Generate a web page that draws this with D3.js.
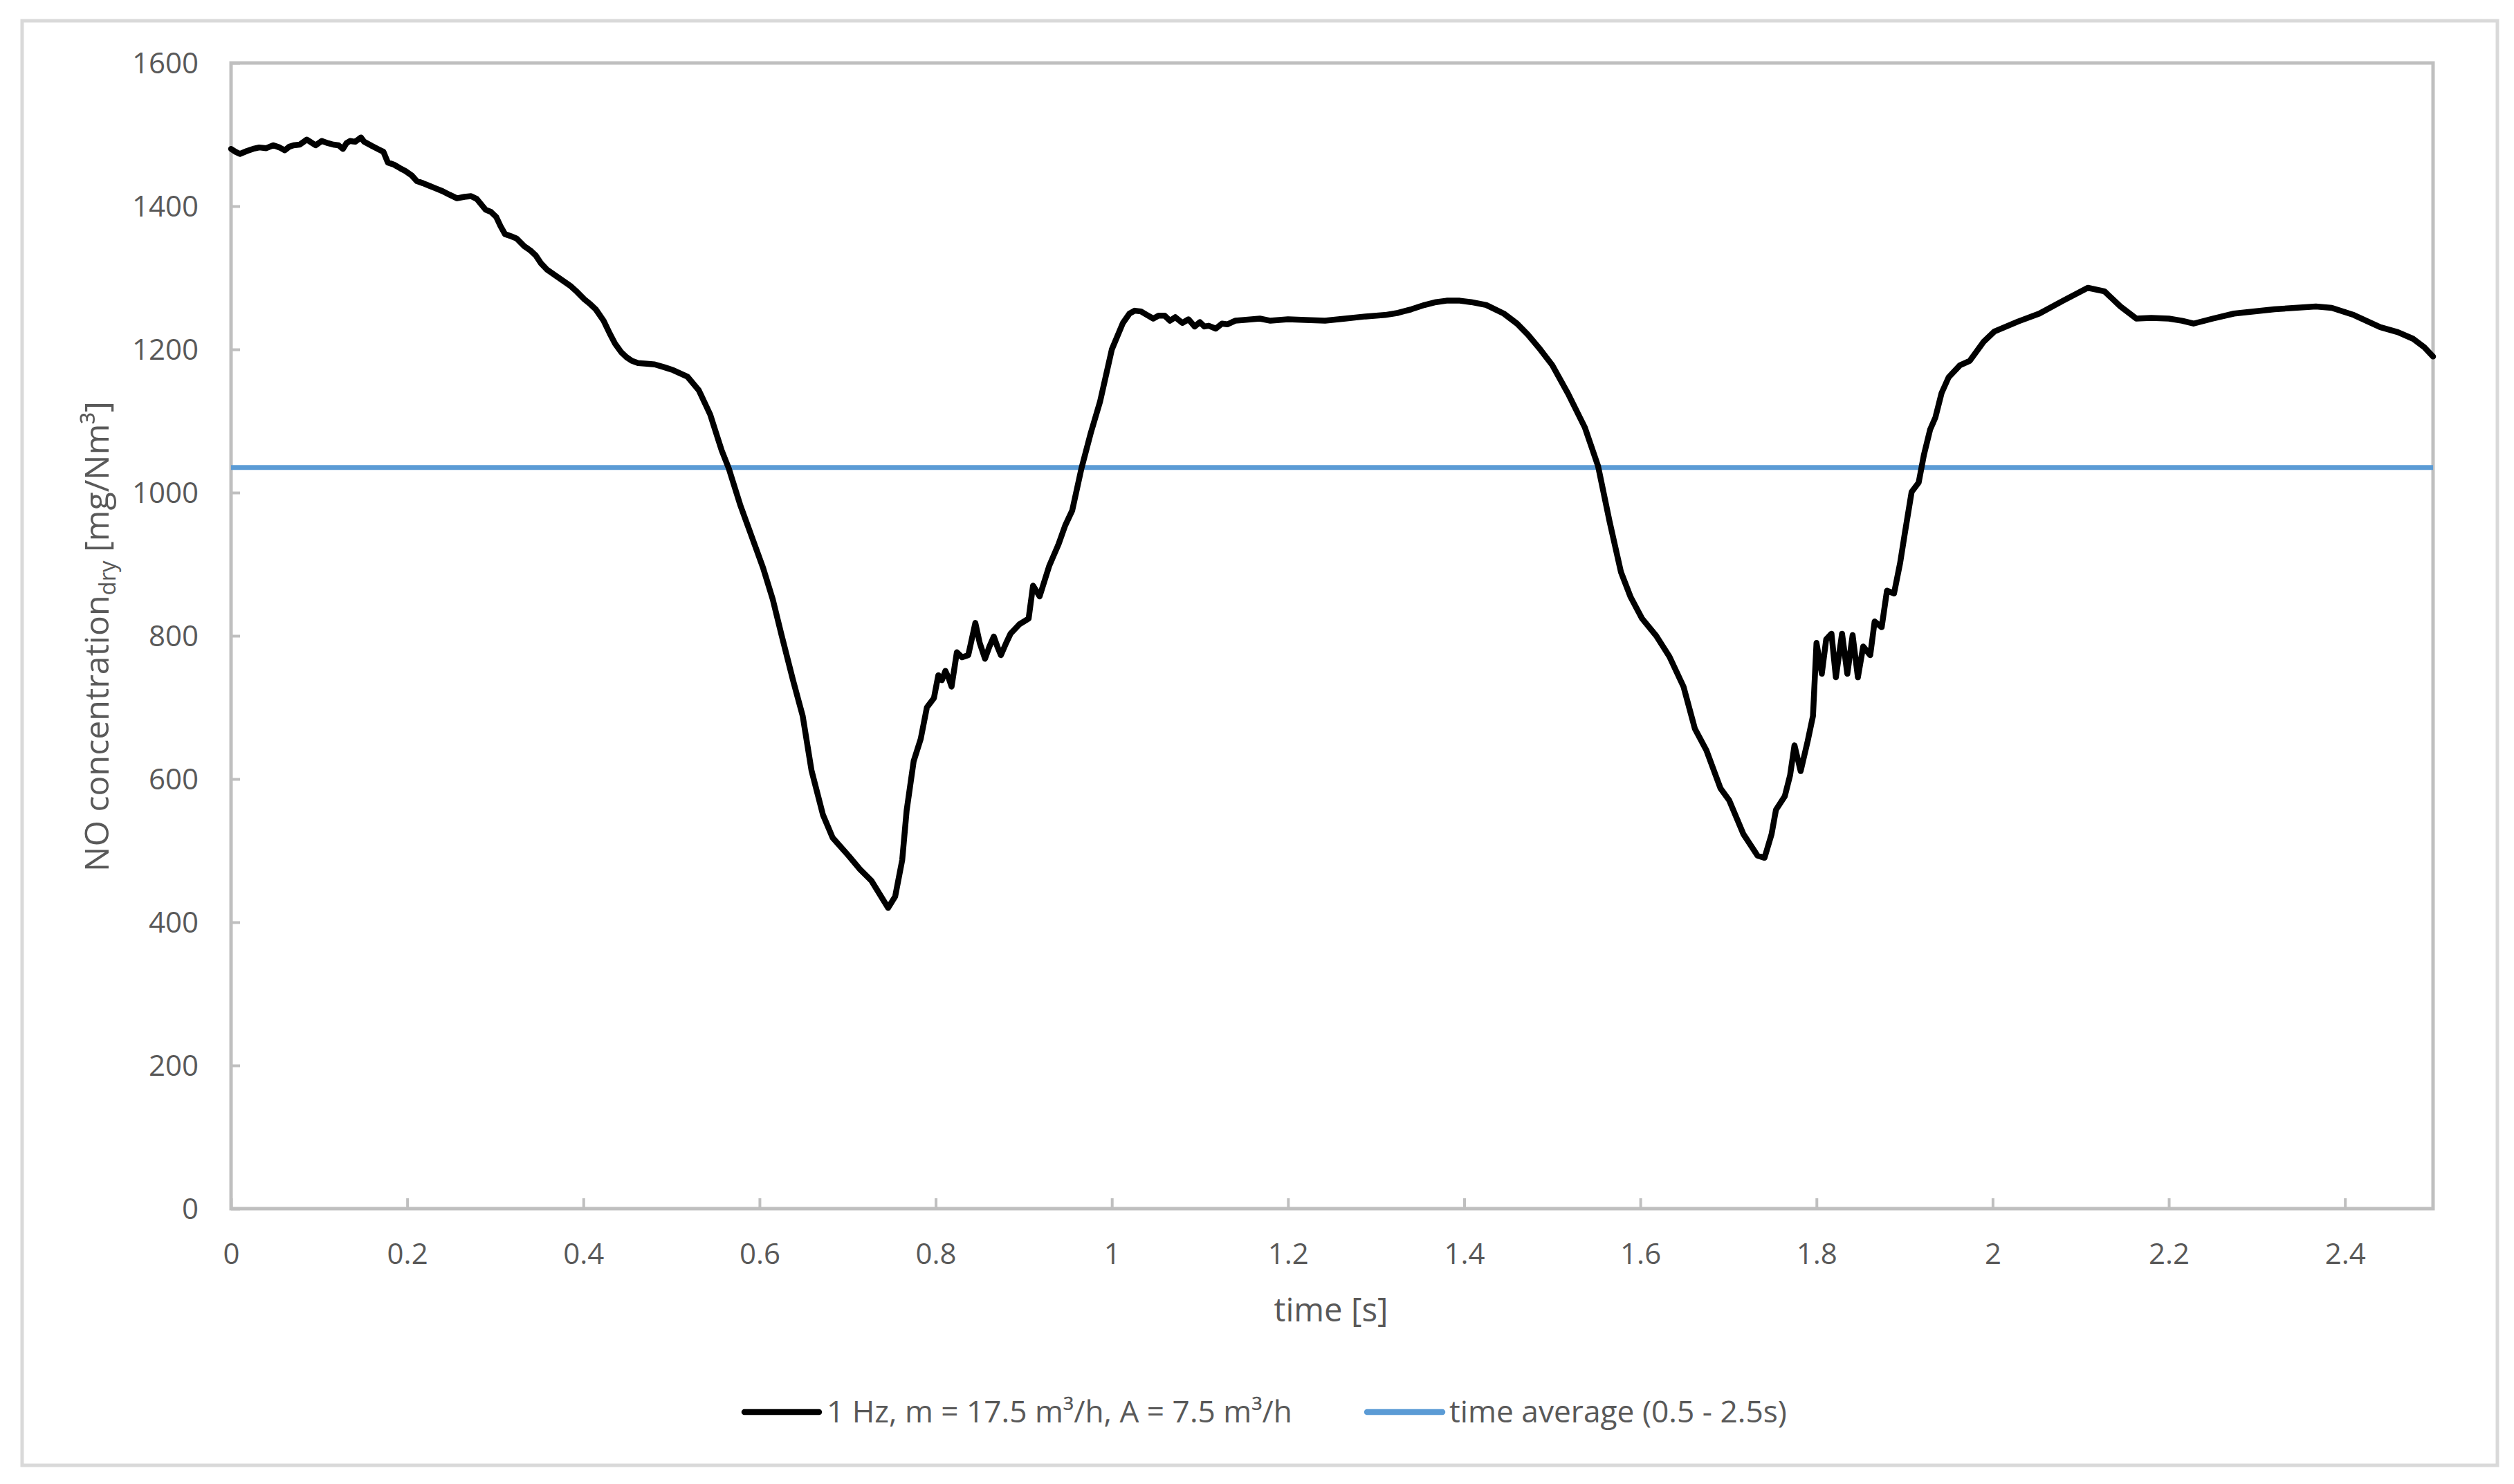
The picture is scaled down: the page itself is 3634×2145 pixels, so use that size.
<!DOCTYPE html>
<html>
<head>
<meta charset="utf-8">
<script src="https://cdn.jsdelivr.net/npm/d3@7"></script>
<style>
  html, body { margin: 0; padding: 0; background: #ffffff; }
  svg { display: block; }
  text { font-family: "Open Sans", "Liberation Sans", sans-serif; fill: #595959; }
</style>
</head>
<body>
<svg id="chart" width="3634" height="2145"></svg>
<script>
// ---------------- data ----------------
const timeS = [
  0.000,0.005,0.010,0.018,0.025,0.032,0.040,0.048,0.055,0.061,0.066,0.071,0.078,0.086,0.091,0.096,
  0.103,0.110,0.116,0.122,0.127,0.131,0.135,0.141,0.1475,0.151,0.160,0.168,0.173,0.178,0.185,0.192,
  0.198,0.205,0.211,0.218,0.224,0.232,0.240,0.248,0.2565,0.265,0.2725,0.279,0.289,0.295,0.301,0.306,
  0.311,0.318,0.324,0.333,0.340,0.346,0.352,0.359,0.372,0.385,0.393,0.401,0.408,0.414,0.423,0.430,
  0.436,0.443,0.449,0.455,0.462,0.472,0.481,0.492,0.502,0.518,0.531,0.544,0.557,0.565,0.578,0.591,
  0.604,0.615,0.625,0.638,0.649,0.659,0.672,0.683,0.701,0.714,0.727,0.738,0.746,0.754,0.762,0.767,
  0.775,0.783,0.790,0.798,0.803,0.807,0.811,0.815,0.818,0.824,0.830,0.837,0.845,0.850,0.856,0.861,
  0.866,0.870,0.874,0.880,0.885,0.895,0.9055,0.9105,0.918,0.929,0.9395,0.947,0.955,0.9655,0.976,0.9866,
  1.000,1.0126,1.020,1.026,1.033,1.040,1.047,1.053,1.060,1.066,1.072,1.080,1.087,1.094,1.100,1.105,
  1.110,1.118,1.125,1.131,1.140,1.150,1.168,1.180,1.200,1.220,1.242,1.265,1.288,1.310,1.325,1.340,
  1.355,1.368,1.380,1.395,1.408,1.425,1.445,1.460,1.472,1.485,1.500,1.518,1.537,1.552,1.565,1.578,
  1.589,1.602,1.618,1.633,1.649,1.662,1.675,1.691,1.701,1.717,1.733,1.741,1.749,1.754,1.764,1.770,
  1.775,1.782,1.790,1.796,1.800,1.806,1.811,1.817,1.822,1.829,1.835,1.841,1.847,1.853,1.861,1.866,
  1.874,1.880,1.888,1.895,1.900,1.908,1.916,1.922,1.929,1.935,1.942,1.950,1.963,1.974,1.990,2.002,
  2.029,2.053,2.080,2.108,2.127,2.145,2.163,2.180,2.200,2.215,2.228,2.250,2.274,2.320,2.367,2.385,
  2.410,2.440,2.460,2.477,2.490,2.500
];
const noConc = [
  1480,1476,1473,1477,1480,1482,1481,1485,1482,1478,1483,1485,1486,1493,1489,1485,
  1491,1488,1486,1485,1480,1488,1491,1490,1496,1490,1484,1479,1476,1461,1458,1453,
  1449,1443,1435,1432,1429,1425,1421,1416,1411,1413,1414,1410,1395,1392,1385,1372,
  1361,1358,1355,1344,1338,1331,1320,1311,1300,1289,1280,1270,1263,1256,1240,1222,
  1208,1196,1189,1184,1181,1180,1179,1175,1171,1162,1143,1109,1059,1034,983,939,
  895,851,801,738,688,612,550,518,493,474,458,436,420,436,487,556,
  625,656,700,713,745,738,751,740,729,777,770,773,818,790,768,785,
  799,785,773,790,803,816,824,870,855,898,928,954,975,1034,1083,1127,
  1200,1237,1250,1254,1253,1248,1243,1247,1247,1240,1245,1237,1242,1232,1238,1232,
  1233,1229,1236,1235,1240,1241,1243,1240,1242,1241,1240,1243,1246,1248,1251,1256,
  1262,1266,1268,1268,1266,1262,1250,1236,1221,1202,1178,1138,1091,1037,960,889,
  854,824,800,771,729,670,640,587,570,523,493,490,523,557,576,605,
  647,611,653,688,790,747,795,803,742,803,747,801,742,785,773,820,
  812,863,859,902,941,1001,1014,1053,1088,1105,1139,1161,1178,1184,1211,1225,
  1239,1250,1268,1286,1281,1260,1243,1244,1243,1240,1236,1243,1250,1256,1260,1258,
  1248,1231,1224,1215,1203,1190
];
const timeAverage = 1035;
const averageRange = [0, 2.5];

const yTicks = [0, 200, 400, 600, 800, 1000, 1200, 1400, 1600];
const yTickLabels = ["0", "200", "400", "600", "800", "1000", "1200", "1400", "1600"];
const xTicks = [0, 0.2, 0.4, 0.6, 0.8, 1, 1.2, 1.4, 1.6, 1.8, 2, 2.2, 2.4];
const xTickLabels = ["0", "0.2", "0.4", "0.6", "0.8", "1", "1.2", "1.4", "1.6", "1.8", "2", "2.2", "2.4"];

const seriesNames = ["1 Hz, m = 17.5 m³/h, A = 7.5 m³/h", "time average (0.5 - 2.5s)"];
const seriesColors = ["#000000", "#5b9bd5"];
const xTitle = "time [s]";

// ---------------- layout ----------------
const svg = d3.select("#chart");
const W = 3634, H = 2145;
const plot = { left: 334, right: 3517, top: 91, bottom: 1747 };
const axisColor = "#bfbfbf";

svg.append("rect").attr("x", 0).attr("y", 0).attr("width", W).attr("height", H).attr("fill", "#ffffff");
// outer chart frame
svg.append("rect").attr("x", 32).attr("y", 30).attr("width", 3610 - 32).attr("height", 2118 - 30)
  .attr("fill", "none").attr("stroke", "#d9d9d9").attr("stroke-width", 5);

const x = d3.scaleLinear().domain([0, 2.5]).range([plot.left, plot.right]);
const y = d3.scaleLinear().domain([0, 1600]).range([plot.bottom, plot.top]);

// plot frame
svg.append("rect").attr("x", plot.left).attr("y", plot.top)
  .attr("width", plot.right - plot.left).attr("height", plot.bottom - plot.top)
  .attr("fill", "none").attr("stroke", axisColor).attr("stroke-width", 5);

// y axis
const yAxis = d3.axisLeft(y).tickValues(yTicks)
  .tickFormat((d, i) => yTickLabels[i]).tickSizeInner(-13).tickSizeOuter(0).tickPadding(47);
const gy = svg.append("g").attr("transform", `translate(${plot.left},0)`).call(yAxis);
gy.select(".domain").remove();
gy.selectAll(".tick line").attr("stroke", axisColor).attr("stroke-width", 4);
gy.selectAll(".tick text").attr("font-size", 42).attr("dy", "0.35em")
  .attr("fill", "#595959").style("font-family", '"Open Sans", sans-serif');

// x axis
const xAxis = d3.axisBottom(x).tickValues(xTicks)
  .tickFormat((d, i) => xTickLabels[i]).tickSizeInner(-15).tickSizeOuter(0);
const gx = svg.append("g").attr("transform", `translate(0,${plot.bottom})`).call(xAxis);
gx.select(".domain").remove();
gx.selectAll(".tick line").attr("stroke", axisColor).attr("stroke-width", 4);
gx.selectAll(".tick text").attr("font-size", 42).attr("y", 65).attr("dy", "0.35em")
  .attr("fill", "#595959").style("font-family", '"Open Sans", sans-serif');

// helper: fit text to target width
function fitWidth(sel, target) {
  const node = sel.node();
  const w = node.getComputedTextLength();
  const fs = parseFloat(sel.attr("font-size"));
  if (w > 0) sel.attr("font-size", fs * target / w);
}

// x title
const xt = svg.append("text").attr("x", 1924).attr("y", 1893).attr("dy", "0.35em")
  .attr("text-anchor", "middle").attr("font-size", 48).text(xTitle);
fitWidth(xt, 165);

// y title with subscript
const yt = svg.append("text").attr("transform", "translate(140,920) rotate(-90)")
  .attr("text-anchor", "middle").attr("dy", "0.35em").attr("font-size", 46);
yt.append("tspan").text("NO concentration");
yt.append("tspan").attr("font-size", "0.68em").attr("dy", "0.3em").text("dry");
yt.append("tspan").attr("dy", "-0.2em").text(" [mg/Nm³]");
fitWidth(yt, 680);

// lines
const data = timeS.map((t, i) => ({ t: t, v: noConc[i] }));
const line = d3.line().x(d => x(d.t)).y(d => y(d.v));

svg.append("path").datum(averageRange.map(t => ({ t: t, v: timeAverage })))
  .attr("d", line).attr("fill", "none").attr("stroke", seriesColors[1]).attr("stroke-width", 7);

svg.append("path").datum(data).attr("d", line).attr("fill", "none")
  .attr("stroke", seriesColors[0]).attr("stroke-width", 8.5)
  .attr("stroke-linejoin", "round").attr("stroke-linecap", "round");

// legend
const legendY = 2041;
const legendItems = [
  { x0: 1076, x1: 1184, tx: 1195, tw: 673 },
  { x0: 1976, x1: 2085, tx: 2095, tw: 488 }
];
legendItems.forEach((it, i) => {
  svg.append("line").attr("x1", it.x0).attr("x2", it.x1).attr("y1", legendY).attr("y2", legendY)
    .attr("stroke", seriesColors[i]).attr("stroke-width", 8.5).attr("stroke-linecap", "round");
  const t = svg.append("text").attr("x", it.tx).attr("y", legendY).attr("dy", "0.35em")
    .attr("font-size", 42).text(seriesNames[i]);
  fitWidth(t, it.tw);
});
</script>
</body>
</html>
